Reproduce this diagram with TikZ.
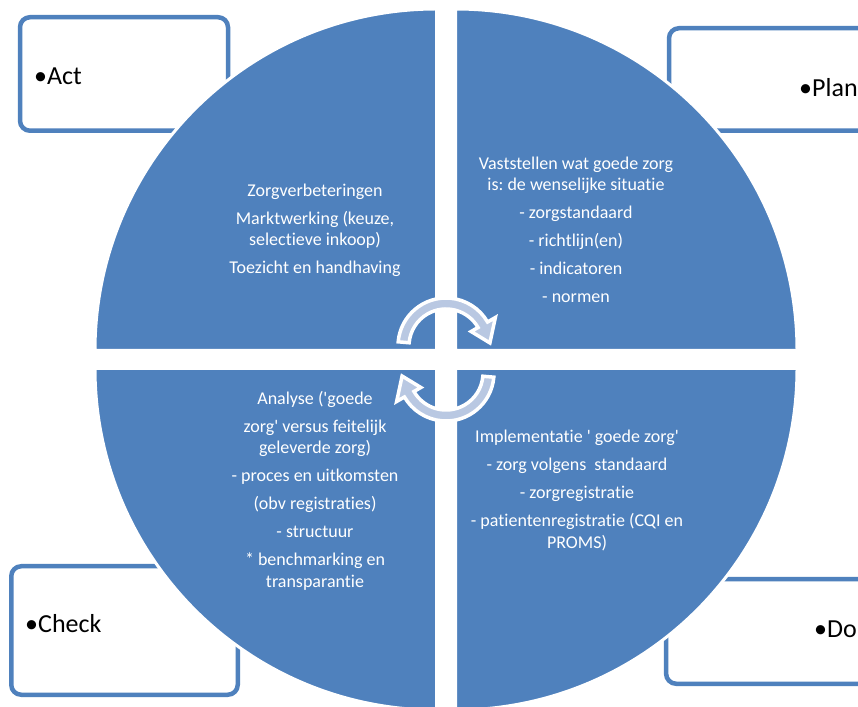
\documentclass[tikz,border=0pt]{standalone}
\usepackage{fontspec}
\setmainfont{Carlito}[Ligatures={TeXOff,NoCommon}]
\usetikzlibrary{positioning}
\definecolor{pdcablue}{RGB}{79,129,189}
\definecolor{pdcalight}{RGB}{185,200,226}
\frenchspacing
\tikzset{
quadrant/.style={fill=pdcablue, draw=white, line width=3pt}, % one quarter of the cycle
box/.style={draw=pdcablue, fill=white, line width=4.5pt, rounded corners=10pt}, % corner boxes
boxtext/.style={font=\fontsize{26}{30}\selectfont, anchor=base west, inner sep=0pt}, % text in the boxes
quadtext/.style={font=\fontsize{18}{21.5}\selectfont, text=white, align=center, inner sep=0pt}, % text in the quarters
cyclearrow/.style={fill=pdcalight, draw=white, line width=3.5pt, line join=miter}, % arrows in the middle
}
\begin{document}
\begin{tikzpicture}[x=1pt, y=1pt]
\useasboundingbox (0,0) rectangle (858,706);
\clip (0,0) rectangle (858,706);
\fill[white] (0,0) rectangle (858,706);
% corner boxes
\node[box, minimum width=208pt, minimum height=113.5pt] (actbox) at (124,632) {};
\node[box, minimum width=231pt, minimum height=102.5pt] (planbox) at (784.5,626.5) {};
\node[box, minimum width=226.5pt, minimum height=128.5pt] (checkbox) at (124.5,75.5) {};
\node[box, minimum width=233.75pt, minimum height=104.5pt] (dobox) at (783,74.5) {};
\node[boxtext] (act) at (34,621) {•Act};
\node[boxtext] (plan) at (799,609) {•Plan};
\node[boxtext] (check) at (25,74) {•Check};
\node[boxtext] (do) at (814,68) {•Do};
% the four quarters
\draw[quadrant] (436.5,355.5) -- ++(-341.5,0) arc[start angle=180, end angle=90, radius=341.5pt] -- cycle;
\draw[quadrant] (455.5,355.5) -- ++(0,341.5) arc[start angle=90, end angle=0, radius=341.5pt] -- cycle;
\draw[quadrant] (436.5,337.5) -- ++(0,-341.5) arc[start angle=270, end angle=180, radius=341.5pt] -- cycle;
\draw[quadrant] (455.5,337.5) -- ++(341.5,0) arc[start angle=0, end angle=-90, radius=341.5pt] -- cycle;
\node[quadtext] (acttext) at (315,475.5) {Zorgverbeteringen\\[6.5pt]
Marktwerking (keuze,\\ selectieve inkoop)\\[6.5pt]
Toezicht en handhaving};
\node[quadtext] (plantext) at (576,476) {Vaststellen wat goede zorg\\ is: de wenselijke situatie\\[6.5pt]
- zorgstandaard\\[6.5pt] - richtlijn(en)\\[6.5pt] - indicatoren\\[6.5pt] - normen};
\node[quadtext] (checktext) at (315,215.5) {Analyse ('goede\\[6.5pt]
zorg' versus feitelijk\\ geleverde zorg)\\[6.5pt]
- proces en uitkomsten\\[6.5pt] (obv registraties)\\[6.5pt] - structuur\\[6.5pt]
* benchmarking en\\ transparantie};
\node[quadtext] (dotext) at (577,215.5) {Implementatie ' goede zorg'\\[6.5pt]
- zorg volgens~ standaard\\[6.5pt] - zorgregistratie\\[6.5pt]
- patientenregistratie (CQI en\\ PROMS)};
% arrows in the middle
\draw[cyclearrow, shift={(446,360)}] (175:48pt) arc[start angle=175, end angle=30, radius=48pt]
  -- (30:57pt) -- (4:44pt) -- (30:29pt) -- (30:37pt) arc[start angle=30, end angle=175, radius=37pt] -- cycle;
\draw[cyclearrow, shift={(446,333)}, rotate=180] (175:48pt) arc[start angle=175, end angle=30, radius=48pt]
  -- (30:57pt) -- (4:44pt) -- (30:29pt) -- (30:37pt) arc[start angle=30, end angle=175, radius=37pt] -- cycle;
\end{tikzpicture}
\end{document}
